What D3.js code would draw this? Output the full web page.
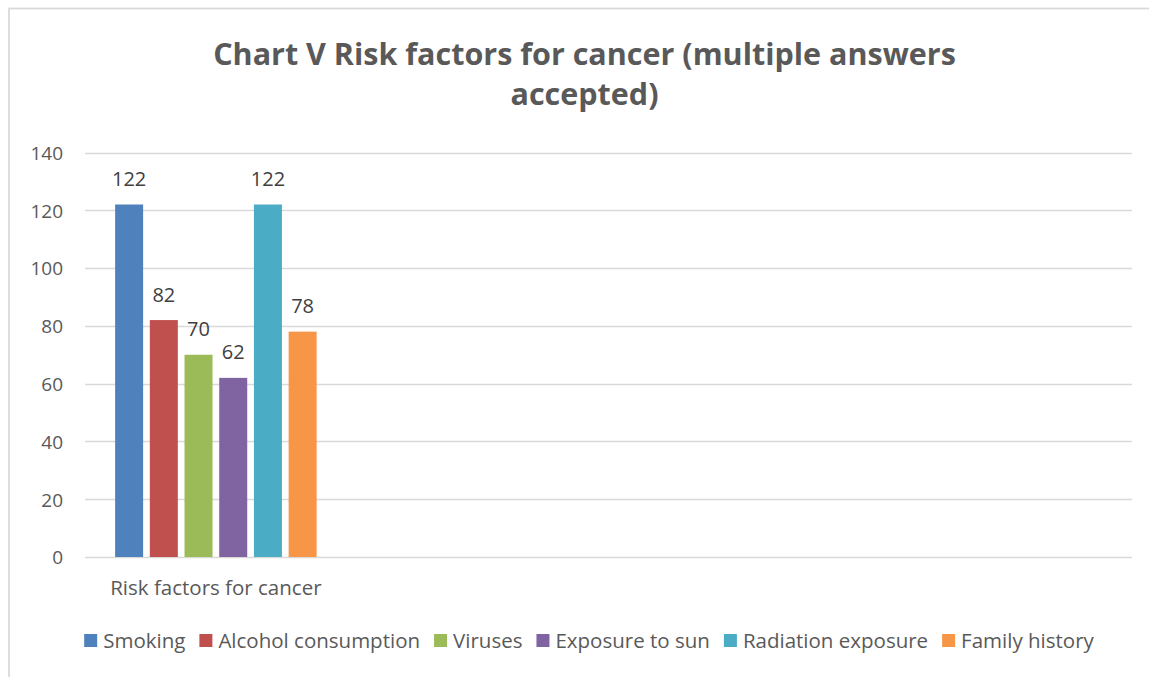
<!DOCTYPE html>
<html>
<head>
<meta charset="utf-8">
<script src="https://cdn.jsdelivr.net/npm/d3@7"></script>
<style>
  body { margin: 0; background: #fff; }
  text { font-family: "Open Sans", Lato, sans-serif; fill: #595959; }
</style>
</head>
<body>
<script>
// chart data
var titleLines = ["Chart V Risk factors for cancer (multiple answers", "accepted)"];
var categories = ["Risk factors for cancer", "", "", ""];
var seriesNames = ["Smoking", "Alcohol consumption", "Viruses", "Exposure to sun", "Radiation exposure", "Family history"];
var seriesValues = [122, 82, 70, 62, 122, 78]; // values for first category only
var yTicks = [0, 20, 40, 60, 80, 100, 120, 140];

var colors = ["#4f81bd", "#c0504d", "#9bbb59", "#8064a2", "#4bacc6", "#f79646"];

var W = 1149, H = 677;
var plot = { left: 85, right: 1132, top: 152.5, bottom: 557 };

var svg = d3.select("body").append("svg")
  .attr("width", W)
  .attr("height", H);

// chart border (only left/top visible in the frame)
svg.append("rect")
  .attr("x", 9)
  .attr("y", 8.5)
  .attr("width", W + 20)
  .attr("height", H + 20)
  .attr("fill", "none")
  .attr("stroke", "#d9d9d9")
  .attr("stroke-width", 1.75);

// title
svg.append("g").selectAll("text")
  .data(titleLines)
  .enter()
  .append("text")
  .attr("x", 584.5)
  .attr("y", function (d, i) { return 64.5 + i * 40.5; })
  .attr("text-anchor", "middle")
  .style("font-size", "30.5px")
  .style("font-weight", "bold")
  .text(function (d) { return d; });

var y = d3.scaleLinear()
  .domain([0, 140])
  .range([plot.bottom, plot.top]);

var x0 = d3.scaleBand()
  .domain(d3.range(categories.length))
  .range([plot.left, plot.right]);

var x1 = d3.scaleBand()
  .domain(seriesNames)
  .range([0, x0.bandwidth()])
  .paddingInner(0.193)
  .paddingOuter(0.868);

// gridlines
svg.append("g").selectAll("line")
  .data(yTicks)
  .enter()
  .append("line")
  .attr("x1", plot.left)
  .attr("x2", plot.right)
  .attr("y1", function (d) { return Math.round(y(d)) + 0.5; })
  .attr("y2", function (d) { return Math.round(y(d)) + 0.5; })
  .attr("stroke", "#d9d9d9")
  .attr("stroke-width", 1.5);

// y axis labels
var yAxis = d3.axisLeft(y).tickValues(yTicks).tickSize(0).tickPadding(0);
var yg = svg.append("g")
  .attr("transform", "translate(63,0)")
  .call(yAxis);
yg.select(".domain").remove();
yg.selectAll("text")
  .attr("dy", "0.36em")
  .style("font-size", "19px")
  .style("fill", "#595959")
  .style("font-family", "'Open Sans', Lato, sans-serif");

// bars
var bars = svg.append("g")
  .attr("transform", "translate(" + x0(0) + ",0)");

bars.selectAll("rect")
  .data(seriesValues)
  .enter()
  .append("rect")
  .attr("x", function (d, i) { return x1(seriesNames[i]); })
  .attr("y", function (d) { return y(d); })
  .attr("width", x1.bandwidth())
  .attr("height", function (d) { return y(0) - y(d); })
  .attr("fill", function (d, i) { return colors[i]; });

// data labels
bars.selectAll("text")
  .data(seriesValues)
  .enter()
  .append("text")
  .attr("x", function (d, i) { return x1(seriesNames[i]) + x1.bandwidth() / 2; })
  .attr("y", function (d) { return y(d) - 18.5; })
  .attr("text-anchor", "middle")
  .style("font-size", "20px")
  .style("fill", "#404040")
  .text(function (d) { return d; });

// category labels
svg.append("g").selectAll("text")
  .data(categories)
  .enter()
  .append("text")
  .attr("x", function (d, i) { return x0(i) + x0.bandwidth() / 2; })
  .attr("y", 595)
  .attr("text-anchor", "middle")
  .style("font-size", "20.5px")
  .text(function (d) { return d; });

// legend
var legend = svg.append("g");
var items = legend.selectAll("g")
  .data(seriesNames)
  .enter()
  .append("g");

items.append("rect")
  .attr("width", 13)
  .attr("height", 13)
  .attr("y", 634)
  .attr("fill", function (d, i) { return colors[i]; });

items.append("text")
  .attr("x", 19)
  .attr("y", 648)
  .style("font-size", "20.5px")
  .text(function (d) { return d; });

var offset = 0;
var widths = [];
items.each(function () {
  var w = 19 + d3.select(this).select("text").node().getComputedTextLength();
  widths.push(w);
});
var gap = 14;
var total = d3.sum(widths) + gap * (widths.length - 1);
var startX = 589 - total / 2;
items.attr("transform", function (d, i) {
  var tx = startX + offset;
  offset += widths[i] + gap;
  return "translate(" + tx + ",0)";
});
</script>
</body>
</html>
